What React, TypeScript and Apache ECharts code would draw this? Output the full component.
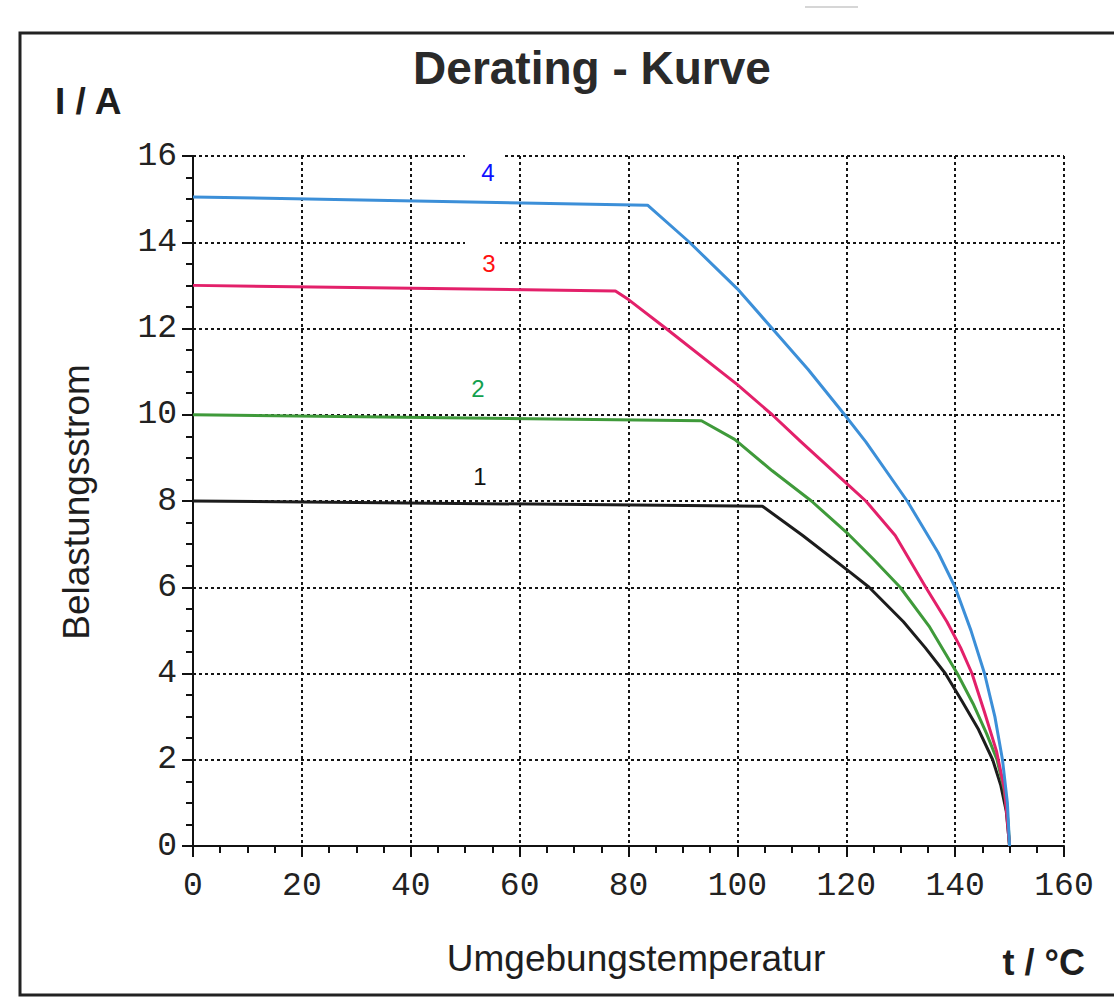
import React, { useEffect, useRef } from "react";
import * as echarts from "echarts";

// Derating curves: [temperature °C, current A]
const curve1: number[][] = [[0, 8.0], [104.6, 7.88], [112, 7.2], [120.4, 6.38], [124.2, 6.0], [130.5, 5.2], [134.5, 4.6], [138.2, 4.0], [141.3, 3.35], [144.3, 2.7], [146.9, 2.0], [148.4, 1.4], [149.4, 0.8], [150, 0]];
const curve2: number[][] = [[0, 10.0], [93.4, 9.86], [99.5, 9.43], [106.4, 8.7], [113.6, 8.0], [120.4, 7.23], [125, 6.65], [129.9, 6.0], [135.2, 5.1], [140.4, 4.0], [143.3, 3.3], [145.8, 2.6], [147.7, 2.0], [149.0, 1.3], [149.7, 0.6], [150, 0]];
const curve3: number[][] = [[0, 13.0], [77.6, 12.87], [80, 12.67], [86.9, 12.0], [100, 10.7], [106.4, 10.0], [111.7, 9.37], [120.4, 8.37], [123.6, 8.0], [129, 7.2], [134.6, 6.0], [138.5, 5.2], [141, 4.6], [143.1, 4.0], [145.4, 3.1], [147.6, 2.2], [149.1, 1.3], [150, 0]];
const curve4: number[][] = [[0, 15.05], [83.5, 14.86], [91.2, 14.0], [100, 12.92], [106.4, 12.0], [113, 11.05], [119.7, 10.0], [123.6, 9.37], [131.2, 8.0], [136.9, 6.8], [140, 6.0], [142.9, 5.0], [145.4, 4.0], [147.3, 3.0], [148.7, 2.0], [149.6, 1.0], [150, 0]];

const curveNames = ["1", "2", "3", "4"];
const curveColors = ["#1c1c1c", "#3f9a3a", "#e3206a", "#3c8fd8"];
const labelColors = ["#111111", "#12a04e", "#ff1010", "#1010ff"];

const xTicks = [0, 160, 20];
const yTicks = [0, 16, 2];

const titleText = "Derating - Kurve";
const yUnit = "I / A";
const xUnit = "t / °C";
const yName = "Belastungsstrom";
const xName = "Umgebungstemperatur";

export default function App() {
  const ref = useRef<HTMLDivElement>(null);
  useEffect(() => {
    if (!ref.current) return;
    const chart = echarts.init(ref.current, undefined, { renderer: "svg" });
    const curves = [curve1, curve2, curve3, curve4];
    const gridLine = { show: true, lineStyle: { color: "#151515", width: 2, type: [3, 3] as any } };
    const option: any = {
      animation: false,
      backgroundColor: "#ffffff",
      grid: { left: 193, top: 156, width: 871, height: 690, containLabel: false },
      xAxis: {
        type: "value",
        min: xTicks[0],
        max: xTicks[1],
        interval: xTicks[2],
        axisLine: { show: true, onZero: false, lineStyle: { color: "#111", width: 2 } },
        axisTick: { show: true, length: 11, lineStyle: { color: "#111", width: 2 } },
        minorTick: { show: true, splitNumber: 4, length: 7, lineStyle: { color: "#111", width: 2 } },
        splitLine: gridLine,
        axisLabel: { fontFamily: "Liberation Mono", fontSize: 33, color: "#222", margin: 24 },
      },
      yAxis: {
        type: "value",
        min: yTicks[0],
        max: yTicks[1],
        interval: yTicks[2],
        axisLine: { show: true, onZero: false, lineStyle: { color: "#111", width: 2 } },
        axisTick: { show: true, length: 11, lineStyle: { color: "#111", width: 2 } },
        minorTick: { show: true, splitNumber: 4, length: 7, lineStyle: { color: "#111", width: 2 } },
        splitLine: gridLine,
        axisLabel: { fontFamily: "Liberation Mono", fontSize: 33, color: "#222", margin: 16 },
      },
      series: curves.map((c, i) => ({
        type: "line",
        name: curveNames[i],
        data: c,
        showSymbol: false,
        smooth: false,
        lineStyle: { color: curveColors[i], width: 3, join: "round" },
        z: 5 + i,
      })),
      graphic: [
        { type: "rect", shape: { x: 20, y: 33, width: 1120, height: 962 }, style: { fill: "none", stroke: "#222", lineWidth: 3 }, z: 0 },
        { type: "line", shape: { x1: 805, y1: 7, x2: 858, y2: 7 }, style: { stroke: "#c8c8c8", lineWidth: 1.5 } },
        { type: "text", x: 592, y: 68, style: { text: titleText, font: "bold 46px 'Liberation Sans'", fill: "#2a2a2a", align: "center", verticalAlign: "middle" } },
        { type: "text", x: 55, y: 101, style: { text: yUnit, font: "bold 37px 'Liberation Sans'", fill: "#1e1e1e", align: "left", verticalAlign: "middle" } },
        { type: "text", x: 1085, y: 962, style: { text: xUnit, font: "bold 36px 'Liberation Sans'", fill: "#1e1e1e", align: "right", verticalAlign: "middle" } },
        { type: "text", x: 636, y: 958, style: { text: xName, font: "37px 'Liberation Sans'", fill: "#1e1e1e", align: "center", verticalAlign: "middle" } },
        { type: "text", x: 76, y: 502, rotation: Math.PI / 2, style: { text: yName, font: "37px 'Liberation Sans'", fill: "#1e1e1e", align: "center", verticalAlign: "middle" } },
        { type: "rect", shape: { x: 465, y: 150, width: 37, height: 36 }, style: { fill: "#ffffff" }, z: 10 },
        { type: "rect", shape: { x: 465, y: 236, width: 35, height: 40 }, style: { fill: "#ffffff" }, z: 10 },
        ...curveNames.map((n, i) => ({
          type: "text",
          x: [480, 478, 489, 488][i],
          y: [476, 388, 263, 172][i],
          z: 11,
          style: { text: n, font: "24px 'Liberation Sans'", fill: labelColors[i], align: "center", verticalAlign: "middle" },
        })),
      ],
    };
    chart.setOption(option);
    return () => chart.dispose();
  }, []);
  return <div ref={ref} style={{ position: "fixed", left: 0, top: 0, width: 1114, height: 1005 }} />;
}
